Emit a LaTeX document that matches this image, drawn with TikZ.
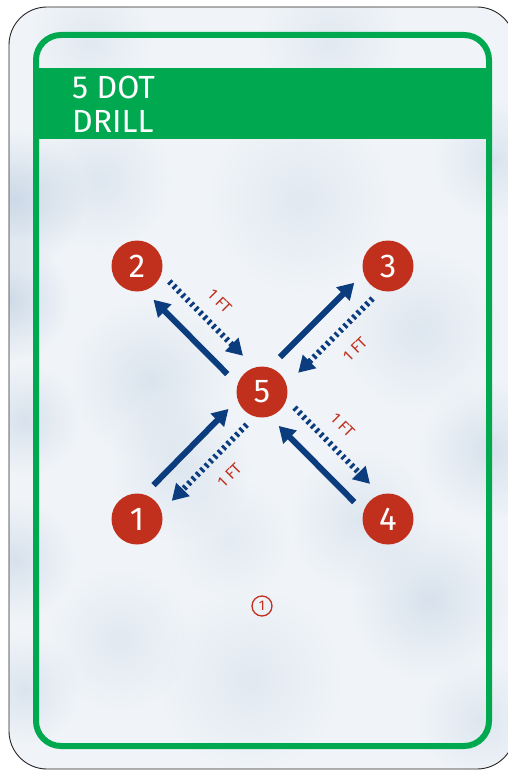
\documentclass[tikz,border=0pt]{standalone}
\usepackage{fontspec}
\setmainfont{Fira Sans}
\usetikzlibrary{arrows.meta,calc,fadings}
\definecolor{cardgreen}{HTML}{00A84F}
\definecolor{dotred}{HTML}{C1301C}
\definecolor{navy}{HTML}{0B3C7D}
\definecolor{snow}{HTML}{F0F4F8}
\definecolor{snowblue}{HTML}{B4C7DC}
\tikzfading[name=softblob, inner color=transparent!0, outer color=transparent!100]
\begin{document}
\begin{tikzpicture}[x=1pt,y=-1pt,
  dotnode/.style={circle,fill=dotred,minimum size=51pt,inner sep=0pt,text=white,font=\fontsize{33}{33}\selectfont},
  solidarrow/.style={draw=navy,line width=6pt,-{Triangle[length=16pt,width=18pt]}},
  dotarrow/.style={draw=navy,line width=6pt,dash pattern=on 2.8pt off 3.4pt,-{Triangle[length=16pt,width=18pt]}},
  ftlabel/.style={text=dotred,font=\fontsize{15.5}{15.5}\selectfont,inner sep=0pt},
  titletext/.style={anchor=base west,text=white,font=\fontsize{32}{32}\selectfont,inner sep=0pt},
  blob/.style={fill=snowblue,path fading=softblob}
]
\fill[white] (0,0) rectangle (507,770);
\path[use as bounding box] (0,0) rectangle (507,770);
% card
\fill[snow, rounded corners=38pt] (9,7) rectangle (515,769);
\begin{scope}
  \clip[rounded corners=38pt] (9,7) rectangle (515,769);
  \foreach \bx/\by/\br/\bo in {
     15/200/70/0.6, 10/300/60/0.55, 25/420/55/0.4, 15/560/60/0.4, 25/690/55/0.35,
     150/380/80/0.35, 180/470/70/0.3, 100/180/70/0.3, 300/200/90/0.25,
     420/330/80/0.3, 490/450/70/0.4, 430/600/80/0.4, 360/520/70/0.3,
     250/680/90/0.25, 120/640/70/0.25, 495/160/60/0.35, 330/40/70/0.25, 90/40/60/0.25,
     480/720/60/0.3, 230/540/60/0.2}
    \fill[blob,opacity=\bo] (\bx,\by) circle (\br);
\end{scope}
\draw[black!85, line width=0.9pt, rounded corners=38pt] (9,7) rectangle (515,769);
% green frame and band
\fill[cardgreen] (36,68) rectangle (489,139);
\draw[cardgreen, line width=6pt, rounded corners=25pt] (36,35) rectangle (489,746);
\node[titletext] (t1) at (72,99) {5 DOT};
\node[titletext] (t2) at (72,133) {DRILL};
% dots
\node[dotnode] (n5) at (262,392) {5};
\node[dotnode] (n2) at (137,266) {2};
\node[dotnode] (n3) at (388,266) {3};
\node[dotnode] (n1) at (137,519) {1};
\node[dotnode] (n4) at (388,519) {4};
% pair 2
\coordinate (s2a) at ($(n5)!0.21!(n2)+(-8.5,8.5)$);
\coordinate (s2b) at ($(n5)!0.80!(n2)+(-8.5,8.5)$);
\coordinate (d2a) at ($(n5)!0.81!(n2)+(8.5,-8.5)$);
\coordinate (d2b) at ($(n5)!0.22!(n2)+(8.5,-8.5)$);
\draw[solidarrow] (s2a) -- (s2b);
\draw[dotarrow] (d2a) -- (d2b);
\node[ftlabel,rotate=-45] (l2) at ($(n5)!0.53!(n2)+(24,-24)$) {1 FT};
% pair 3
\coordinate (s3a) at ($(n5)!0.21!(n3)+(-8.5,-8.5)$);
\coordinate (s3b) at ($(n5)!0.80!(n3)+(-8.5,-8.5)$);
\coordinate (d3a) at ($(n5)!0.81!(n3)+(8.5,8.5)$);
\coordinate (d3b) at ($(n5)!0.22!(n3)+(8.5,8.5)$);
\draw[solidarrow] (s3a) -- (s3b);
\draw[dotarrow] (d3a) -- (d3b);
\node[ftlabel,rotate=45] (l3) at ($(n5)!0.54!(n3)+(25,25)$) {1 FT};
% pair 1
\coordinate (s1a) at ($(n5)!0.80!(n1)+(-8.5,-8.5)$);
\coordinate (s1b) at ($(n5)!0.20!(n1)+(-8.5,-8.5)$);
\coordinate (d1a) at ($(n5)!0.19!(n1)+(8.5,8.5)$);
\coordinate (d1b) at ($(n5)!0.79!(n1)+(8.5,8.5)$);
\draw[solidarrow] (s1a) -- (s1b);
\draw[dotarrow] (d1a) -- (d1b);
\node[ftlabel,rotate=45] (l1) at ($(n5)!0.46!(n1)+(25,25)$) {1 FT};
% pair 4
\coordinate (s4a) at ($(n5)!0.80!(n4)+(-8.5,8.5)$);
\coordinate (s4b) at ($(n5)!0.20!(n4)+(-8.5,8.5)$);
\coordinate (d4a) at ($(n5)!0.19!(n4)+(8.5,-8.5)$);
\coordinate (d4b) at ($(n5)!0.79!(n4)+(8.5,-8.5)$);
\draw[solidarrow] (s4a) -- (s4b);
\draw[dotarrow] (d4a) -- (d4b);
\node[ftlabel,rotate=-45] (l4) at ($(n5)!0.45!(n4)+(24,-24)$) {1 FT};
% circled number
\node[circle,draw=dotred,line width=1.3pt,minimum size=20pt,inner sep=0pt,text=dotred,font=\fontsize{14}{14}\selectfont] (c1) at (262,606) {1};
\end{tikzpicture}
\end{document}
